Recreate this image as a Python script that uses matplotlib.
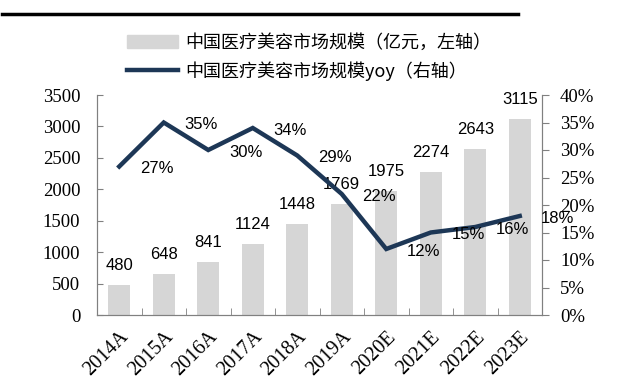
import numpy as np
import matplotlib
matplotlib.use("Agg")
import matplotlib.pyplot as plt
from matplotlib.lines import Line2D

years = ["2014A", "2015A", "2016A", "2017A", "2018A", "2019A",
         "2020E", "2021E", "2022E", "2023E"]
market = [480, 648, 841, 1124, 1448, 1769, 1975, 2274, 2643, 3115]
yoy = [27, 35, 30, 34, 29, 22, 12, 15, 16, 18]

bar_color = "#d6d6d6"
line_color = "#1d3756"
serif = "Liberation Serif"
sans = "Liberation Sans"

fig = plt.figure(figsize=(6.4, 3.77), dpi=100)
ax = fig.add_axes([97/640, 1-315/377, 445/640, 220/377])
ax2 = ax.twinx()

x = np.arange(len(years))
bars = ax.bar(x, market, width=0.5, color=bar_color, zorder=1)
ax.set_xlim(-0.5, len(years)-0.5)
ax.set_ylim(0, 3500)
ax.set_yticks(np.arange(0, 3501, 500))
ax2.set_ylim(0, 40)
ax2.set_yticks(np.arange(0, 41, 5))
ax2.set_yticklabels([f"{v}%" for v in range(0, 41, 5)])

ln, = ax2.plot(x, yoy, color=line_color, lw=3.2, solid_joinstyle="miter", zorder=3)

# bar value labels
for i, v in enumerate(market):
    ax.annotate(str(v), (i, v), xytext=(0, 14), textcoords="offset points",
                ha="center", va="center", fontsize=12, family=sans)
# yoy labels (shifted right, as in the original)
for i, v in enumerate(yoy):
    ax2.annotate(f"{v}%", (i, v), xytext=(27, -1.5), textcoords="offset points",
                 ha="center", va="center", fontsize=12, family=sans)

# axes styling
for a in (ax, ax2):
    for s in a.spines.values():
        s.set_color("#808080")
    a.spines["top"].set_visible(False)
ax.set_xticks(x)
ax.set_xticklabels(years, rotation=45, ha="right", rotation_mode="anchor",
                   family=serif, fontsize=14.5)
ax.tick_params(axis="x", length=0, pad=9)
ax.set_xticks(np.arange(0.5, len(years)-0.5, 1), minor=True)
ax.tick_params(axis="x", which="minor", direction="in", length=5, color="#808080")
ax.tick_params(axis="y", direction="in", length=4, color="#808080", pad=12,
               labelsize=13.5)
ax2.tick_params(axis="y", direction="out", length=5, color="#808080", pad=8,
                labelsize=13.5)
for lab in ax.get_yticklabels() + ax2.get_yticklabels():
    lab.set_family(serif)

# legend
handles = [plt.Rectangle((0, 0), 1, 1, color=bar_color),
           Line2D([0], [0], color=line_color, lw=3.2)]
labels = ["中国医疗美容市场规模（亿元，左轴）", "中国医疗美容市场规模yoy（右轴）"]
fig.legend(handles, labels, loc="upper left", bbox_to_anchor=(127/640, 1-34/377),
           frameon=False, borderpad=0, borderaxespad=0, handlelength=2.8,
           handletextpad=0.4, labelspacing=0.5,
           prop={"family": ["Noto Sans CJK SC", "DejaVu Sans"], "size": 13})

# top rule
fig.add_artist(Line2D([2/640, 518/640], [1-14/377, 1-14/377], color="black", lw=2.5))

fig.savefig("out.png", dpi=100)
